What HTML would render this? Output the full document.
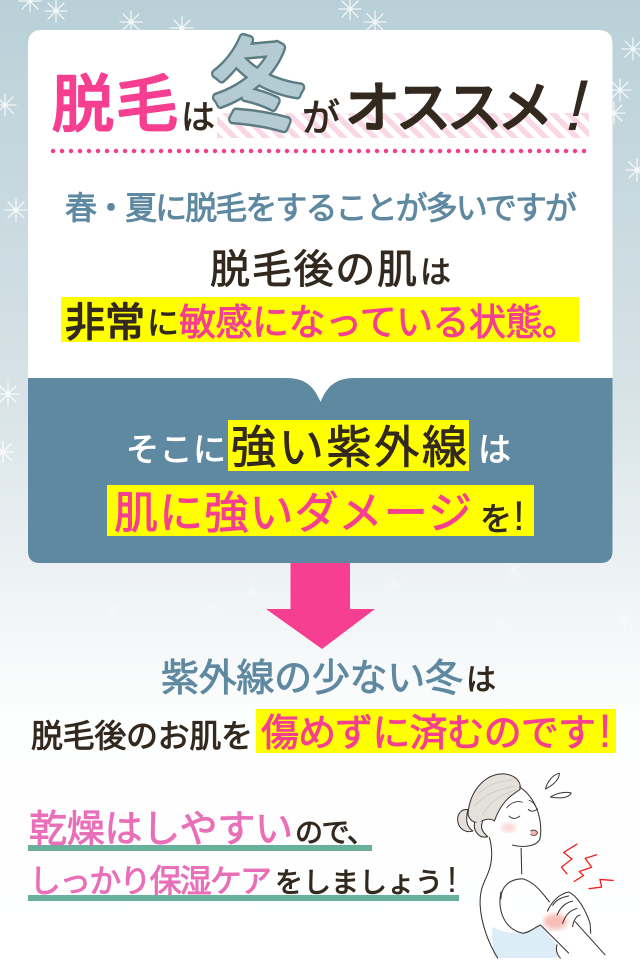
<!DOCTYPE html>
<html lang="ja"><head><meta charset="utf-8"><title>脱毛は冬がオススメ</title>
<style>
html,body{margin:0;padding:0;width:640px;height:960px;overflow:hidden;background:#fff}
svg{display:block}
text{font-family:"Liberation Sans","Noto Sans CJK JP",sans-serif;font-weight:400;stroke-linejoin:round;stroke-linecap:round}
.d{fill:#33291f;stroke:#33291f}
.p{fill:#f63f90;stroke:#f63f90}
.l{fill:#e86fb8;stroke:#e86fb8}
.b{fill:#5f89a1;stroke:#5f89a1}
.w{fill:#fff;stroke:#fff}
.s0{stroke-width:0}
.s1{stroke-width:.9px}
.s2{stroke-width:1.5px}
.s3{stroke-width:2.6px}
</style></head><body>
<svg width="640" height="960" viewBox="0 0 640 960" xmlns="http://www.w3.org/2000/svg">
<defs>
<linearGradient id="bg" x1="0" y1="0" x2="0" y2="1">
<stop offset="0" stop-color="#b9d0d8"/><stop offset=".4" stop-color="#d6e2e6"/><stop offset=".6" stop-color="#edf2f4"/><stop offset=".75" stop-color="#fdfefe"/><stop offset="1" stop-color="#fff"/>
</linearGradient>
<pattern id="hatch" width="11" height="11" patternUnits="userSpaceOnUse" patternTransform="rotate(-45)">
<rect width="5.500" height="11" fill="#f9d7e4"/>
</pattern>
<filter id="blur"><feGaussianBlur stdDeviation="7"/></filter>
<g id="f" stroke="#fff" stroke-width="1.3" stroke-linecap="round" fill="none">
<path d="M0-11V11M-11 0H11M-8-8L8 8M-8 8L8-8"/><circle r="2.500" fill="#fff" stroke="none"/>
</g>
</defs>
<rect width="640" height="960" fill="url(#bg)"/>
<g opacity=".8">
<use href="#f" x="56" y="11"/><use href="#f" x="131" y="22"/><use href="#f" x="182" y="28"/><use href="#f" x="350" y="9"/><use href="#f" x="375" y="22"/><use href="#f" x="633" y="49"/><use href="#f" x="620" y="90"/><use href="#f" x="5" y="105"/><use href="#f" x="614" y="113"/><use href="#f" x="637" y="170"/><use href="#f" x="16" y="210"/><use href="#f" x="8" y="394"/><use href="#f" x="3" y="452"/><use href="#f" x="30" y="1"/>
</g>
<g opacity=".35">
<use href="#f" x="110" y="612"/><use href="#f" x="253" y="593"/><use href="#f" x="210" y="608"/><use href="#f" x="394" y="585"/><use href="#f" x="514" y="570"/><use href="#f" x="502" y="623"/><use href="#f" x="624" y="620"/>
</g>

<path d="M28 410V44Q28 30 42 30H598Q612.500 30 612.500 44V410Z" fill="#fff"/>

<rect x="217" y="113" width="372" height="25" fill="url(#hatch)"/>

<text class="p s3" x="52" y="126" font-size="62" textLength="126">脱毛</text>
<text class="d s1" x="181" y="129" font-size="34">は</text>
<g transform="translate(216 125) rotate(-5) scale(.9 1)">
<text x="0" y="0" font-size="100" fill="none" stroke="#5c7c84" stroke-width="10">冬</text>
<text x="0" y="0" font-size="100" fill="#b4cbd3" stroke="#b4cbd3" stroke-width="5">冬</text>
</g>
<text class="d s1" x="302" y="131" font-size="38">が</text>
<text class="d s3" x="345" y="127" font-size="55" textLength="208" lengthAdjust="spacing">オススメ</text>
<text class="d s0" transform="translate(562 130) skewX(-14)" font-size="72">!</text>

<line x1="53" y1="151" x2="588" y2="151" stroke="#f63f90" stroke-width="4.500" stroke-linecap="round" stroke-dasharray="0 9"/>

<text class="b s1" x="65" y="219" font-size="32" textLength="512" lengthAdjust="spacing">春・夏に脱毛をすることが多いですが</text>
<text class="d s1" x="210" y="283" font-size="40" textLength="207" lengthAdjust="spacing">脱毛後の肌</text>
<text class="d s1" x="420" y="283" font-size="31">は</text>

<rect x="61" y="297" width="518" height="45" fill="#ff0"/>
<text class="d s2" x="65" y="336" font-size="40" textLength="80" lengthAdjust="spacing">非常</text>
<text class="d s1" x="147" y="334" font-size="32">に</text>
<text class="p s1" x="179" y="335" font-size="37" textLength="400" lengthAdjust="spacing">敏感になっている状態。</text>

<path d="M28 378H286C305 378 314 386 320.500 402C327 386 336 378 355 378H612.500V551Q612.500 563 600 563H40Q28 563 28 551Z" fill="#5f89a1"/>

<rect x="228" y="420" width="241" height="51" fill="#ff0"/>
<text class="w s1" x="126" y="461" font-size="33" textLength="100" lengthAdjust="spacing">そこに</text>
<text class="d s1" x="231" y="463" font-size="45" textLength="236" lengthAdjust="spacing">強い紫外線</text>
<text class="w s1" x="478" y="461" font-size="33">は</text>

<rect x="107" y="485" width="427" height="51" fill="#ff0"/>
<text class="p s1" x="114" y="528" font-size="44" textLength="358" lengthAdjust="spacing">肌に強いダメージ</text>
<text class="d s1" x="480" y="530" font-size="32">を</text>
<text class="d s0" x="513" y="530" font-size="42">!</text>

<path d="M290.500 563H350V609H375L322 649L266 609H290.500Z" fill="#f63f90"/>

<text class="b s1" x="161" y="691" font-size="38" textLength="302" lengthAdjust="spacing">紫外線の少ない冬</text>
<text class="d s1" x="466" y="690" font-size="30">は</text>

<text class="d s1" x="31" y="747" font-size="32" textLength="222" lengthAdjust="spacing">脱毛後のお肌を</text>
<rect x="256" y="709" width="360" height="44" fill="#ff0"/>
<text class="p s1" x="261" y="746" font-size="38" textLength="335" lengthAdjust="spacing">傷めずに済むのです</text>
<text class="p s0" x="598.500" y="747" font-size="47">!</text>

<rect x="28" y="845" width="344" height="6" fill="#66b09c"/>
<text class="l s1" x="29" y="842" font-size="38" textLength="264" lengthAdjust="spacing">乾燥はしやすい</text>
<text class="d s1" x="295" y="842" font-size="28" textLength="80" lengthAdjust="spacing">ので、</text>

<rect x="28" y="895" width="431" height="6" fill="#66b09c"/>
<text class="l s1" x="29" y="892" font-size="32" textLength="243" lengthAdjust="spacing">しっかり保湿ケア</text>
<text class="d s1" x="275" y="892" font-size="28" textLength="168" lengthAdjust="spacing">をしましょう</text>
<text class="d s0" x="447" y="892" font-size="36">!</text>

<!-- woman illustration -->
<g transform="translate(430 760) scale(.33)" fill="none" stroke="#3c3532" stroke-width="3.200" stroke-linecap="round" stroke-linejoin="round">
<path d="M195 600C190 560 185 530 190 505C230 530 280 530 335 500L385 560V600Z" fill="#dcedf7" stroke="none"/>
<ellipse cx="238" cy="205" rx="22" ry="14" fill="#fbd5d8" stroke="none" filter="url(#blur)"/>
<ellipse cx="380" cy="490" rx="36" ry="24" fill="#f8bdb8" stroke="none" filter="url(#blur)"/>
<path d="M115 165C120 90 170 40 225 42C262 45 278 70 272 90C240 110 215 130 195 185C185 175 160 180 150 190C135 190 120 185 115 165Z" fill="#e4e1dd"/>
<path d="M150 100C170 80 200 65 250 60M135 140C160 110 195 90 255 80M160 165C180 130 210 105 262 90" stroke="#d0ccc8" stroke-width="3"/>
<path d="M115 150C90 148 80 170 85 190C90 210 110 222 130 215C115 205 105 190 115 150Z" fill="#e4e1dd"/>
<path d="M135 190C130 215 150 240 175 232C160 220 150 205 160 185" fill="#e4e1dd"/>
<path d="M272 82C300 100 318 130 328 160C335 185 338 215 333 240C325 258 290 268 250 258"/>
<path d="M180 235C190 270 190 310 175 345C165 370 150 390 152 440C155 500 180 560 205 600"/>
<path d="M276 268L278 345"/>
<path d="M215 420C215 385 240 360 280 360C320 370 345 410 362 430"/>
<path d="M215 400C205 450 220 510 280 525C300 525 320 505 335 500L420 585"/>
<path d="M440 490L530 590"/>
<path d="M385 560C380 575 385 590 395 600"/>
<path d="M356 458C370 425 395 405 420 400C445 410 470 450 485 495L487 525"/>
<path d="M372 440C385 420 405 415 420 412M385 470C395 445 415 430 432 428M402 495C410 470 425 455 445 450M432 505C435 485 445 470 455 470"/>
<path d="M240 170C250 180 262 178 272 170" stroke-width="3"/>
<path d="M232 145C245 130 262 122 280 128M300 122C310 125 318 135 322 145" stroke-width="2.500"/>
<path d="M298 150C306 158 318 156 326 148" stroke-width="3"/>
<path d="M305 215C312 210 322 212 326 220C322 230 312 232 305 225" fill="#f2b5ae" stroke-width="2.500"/>
<path d="M350 88C355 65 372 45 392 40C392 60 375 75 350 88Z" fill="#fff" stroke-width="3"/>
<path d="M365 112C385 100 410 95 428 100C420 115 395 118 365 112Z" fill="#fff" stroke-width="3"/>
<g stroke="#f0201c" stroke-width="4">
<path d="M445 255L405 280L430 300L398 325L415 345"/>
<path d="M505 287L470 298L490 325L452 338L465 350L437 368"/>
<path d="M555 365L515 362L520 385L482 390"/>
</g>
</g>
</svg>
</body></html>
